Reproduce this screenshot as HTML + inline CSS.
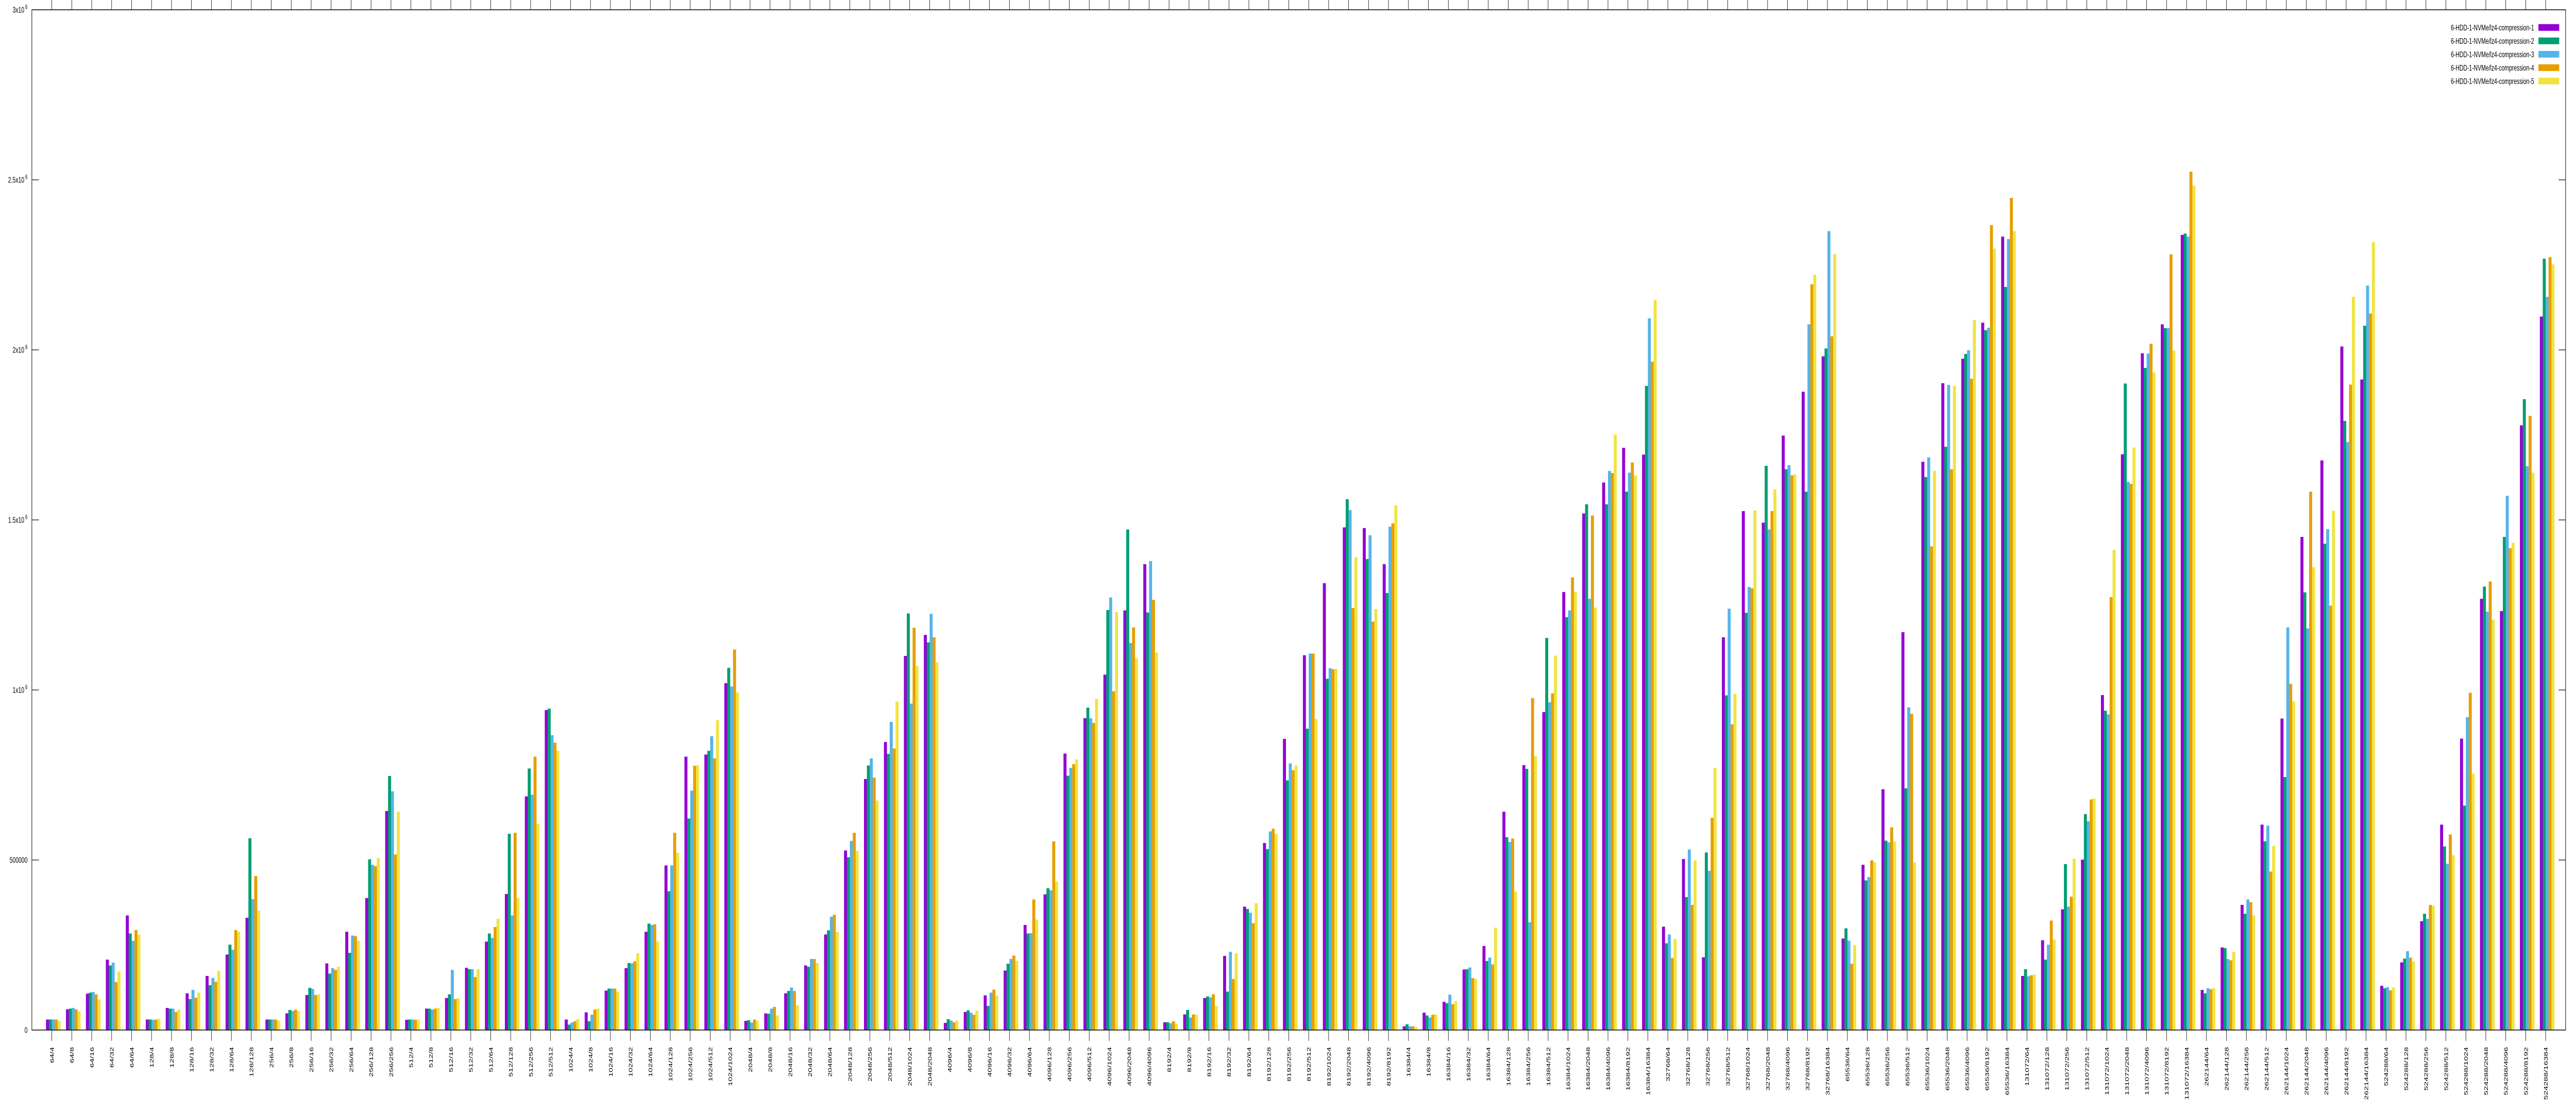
<!DOCTYPE html>
<html><head><meta charset="utf-8"><title>lz4 compression chart</title>
<style>html,body{margin:0;padding:0;background:#fff;width:100vw;height:100vh;overflow:hidden}svg{display:block;width:100vw;height:100vh;position:absolute;left:0;top:0}text{font-family:"Liberation Sans",Arial,sans-serif;fill:#000}</style>
</head><body>
<svg id="chart" viewBox="0 0 7680 2160" preserveAspectRatio="none" xmlns="http://www.w3.org/2000/svg">
<rect x="0" y="0" width="7680" height="2160" fill="#fff"/>
<g id="bars"></g>
<g id="axes"></g>
<g id="legend"></g>
</svg>
<script>
const categories = [
"64/4","64/8","64/16","64/32","64/64",
"128/4","128/8","128/16","128/32","128/64","128/128",
"256/4","256/8","256/16","256/32","256/64","256/128","256/256",
"512/4","512/8","512/16","512/32","512/64","512/128","512/256","512/512",
"1024/4","1024/8","1024/16","1024/32","1024/64","1024/128","1024/256","1024/512","1024/1024",
"2048/4","2048/8","2048/16","2048/32","2048/64","2048/128","2048/256","2048/512","2048/1024","2048/2048",
"4096/4","4096/8","4096/16","4096/32","4096/64","4096/128","4096/256","4096/512","4096/1024","4096/2048","4096/4096",
"8192/4","8192/8","8192/16","8192/32","8192/64","8192/128","8192/256","8192/512","8192/1024","8192/2048","8192/4096","8192/8192",
"16384/4","16384/8","16384/16","16384/32","16384/64","16384/128","16384/256","16384/512","16384/1024","16384/2048","16384/4096","16384/8192","16384/16384",
"32768/64","32768/128","32768/256","32768/512","32768/1024","32768/2048","32768/4096","32768/8192","32768/16384",
"65536/64","65536/128","65536/256","65536/512","65536/1024","65536/2048","65536/4096","65536/8192","65536/16384",
"131072/64","131072/128","131072/256","131072/512","131072/1024","131072/2048","131072/4096","131072/8192","131072/16384",
"262144/64","262144/128","262144/256","262144/512","262144/1024","262144/2048","262144/4096","262144/8192","262144/16384",
"524288/64","524288/128","524288/256","524288/512","524288/1024","524288/2048","524288/4096","524288/8192","524288/16384"];
// values in thousands
const series1 = [31,61,107,207,337, 31,65,108,159,222,330, 31,49,103,196,289,388,644, 30,63,94,183,260,400,687,941, 31,52,116,182,289,484,804,810,1020, 27,49,108,190,281,528,738,847,1100,1162, 21,53,102,175,309,399,813,917,1045,1234,1370, 23,46,94,218,363,550,856,1102,1314,1478,1476,1370, 11,51,83,178,247,642,779,935,1288,1519,1610,1712,1692, 304,503,214,1155,1526,1492,1748,1877,1981, 269,486,708,1170,1671,1902,1974,2080,2333, 159,264,355,501,985,1693,1990,2075,2338, 118,243,368,604,916,1450,1675,2010,1913, 130,199,320,604,857,1268,1232,1778,2098];
const series2 = [31,63,110,190,284, 31,63,91,132,251,564, 31,59,124,166,227,502,747, 31,63,105,179,284,577,769,945, 16,26,122,197,313,408,622,821,1065, 29,48,115,186,293,508,778,812,1225,1140, 32,58,71,195,284,417,748,948,1235,1472,1228, 23,59,99,113,356,532,734,886,1033,1561,1385,1285, 17,43,79,179,203,567,768,1153,1214,1546,1546,1583,1894, 255,391,522,984,1227,1659,1649,1583,2004, 299,440,557,711,1626,1715,1988,2058,2185, 179,207,488,635,939,1901,1947,2064,2342, 108,241,342,555,744,1287,1430,1791,2071, 123,210,342,540,660,1304,1450,1855,2268];
const series3 = [31,65,112,198,262, 30,63,118,153,236,385, 31,56,121,182,278,486,702, 31,60,177,179,271,337,692,867, 22,45,122,196,309,484,704,864,1010, 22,63,125,209,333,556,799,906,960,1224, 28,51,110,209,285,411,771,917,1272,1138,1379, 20,37,96,230,345,584,784,1107,1064,1529,1455,1480, 11,37,104,184,213,553,317,964,1234,1268,1644,1639,2093, 281,531,468,1239,1303,1472,1661,2075,2349, 263,450,552,949,1684,1897,1999,2065,2326, 158,251,363,614,928,1612,1989,2064,2333, 123,209,384,601,1184,1181,1473,1729,2189, 126,232,327,489,920,1230,1571,1658,2156];
const series4 = [31,61,105,141,294, 31,53,95,142,294,453, 31,60,103,177,276,482,516, 30,63,91,156,303,580,804,845, 26,60,122,202,311,580,777,799,1119, 31,68,115,209,339,580,742,828,1183,1155, 23,45,119,219,384,555,782,903,996,1184,1265, 26,46,105,150,314,592,764,1107,1061,1241,1201,1490, 11,45,76,153,193,563,976,990,1331,1513,1638,1669,1965, 212,368,624,899,1299,1526,1631,2193,2040, 195,499,596,930,1422,1649,1915,2367,2447, 161,322,392,678,1273,1606,2018,2281,2524, 120,205,376,466,1018,1583,1248,1898,2107, 117,213,368,575,992,1319,1417,1806,2273];
const series5 = [27,55,90,172,281, 33,60,110,174,289,351, 28,56,105,186,262,506,642, 31,65,94,179,327,388,606,821, 32,63,113,226,260,521,778,911,993, 27,43,73,197,288,527,675,966,1071,1081, 28,57,102,204,325,437,796,974,1229,1093,1110, 19,45,71,226,373,577,778,915,1062,1390,1238,1543, 9,46,85,150,301,407,805,1101,1289,1242,1751,1631,2147, 268,499,770,989,1528,1590,1634,2221,2282, 250,493,554,493,1644,1894,2088,2298,2349, 163,266,504,681,1412,1713,1934,1998,2483, 123,230,337,542,966,1361,1527,2156,2317, 125,202,366,514,754,1207,1433,1639,2251];
const seriesNames = ["6-HDD-1-NVMe/lz4-compression-1","6-HDD-1-NVMe/lz4-compression-2","6-HDD-1-NVMe/lz4-compression-3","6-HDD-1-NVMe/lz4-compression-4","6-HDD-1-NVMe/lz4-compression-5"];
const yTickValues = [0,500000,1000000,1500000,2000000,2500000,3000000];
const yTickMain = ["0","500000","1x10","1.5x10","2x10","2.5x10","3x10"];
const yTickExp = ["","","6","6","6","6","6"];

const colors = ["#9400d3","#009e73","#56b4e9","#e69f00","#f0e442"];
const NS = "http://www.w3.org/2000/svg";
const L = 95, R = 7649, T = 19, B = 1999;
const X_MIN = -1, X_MAX = 126, Y_MAX = 3000000;
function xScale(i){ return L + (i - X_MIN) * (R - L) / (X_MAX - X_MIN); }
function yScale(v){ return B - v * (B - T) / Y_MAX; }
function mk(tag, attrs, parent){ const e = document.createElementNS(NS, tag); for (const k in attrs) e.setAttribute(k, attrs[k]); parent.appendChild(e); return e; }

const barsG = document.getElementById('bars');
const allSeries = [series1, series2, series3, series4, series5];
const BW = 8.65, OFF = -17.3;
allSeries.forEach((s, j) => {
  const g = mk('g', {fill: colors[j]}, barsG);
  
  
  s.forEach((v, i) => {
    const val = v * 1000;
    const x = xScale(i) + OFF + j * BW;
    const y = yScale(val);
    const r = mk('rect', {x: x.toFixed(2), y: y.toFixed(2), width: (BW + 0.3).toFixed(2), height: (B - y).toFixed(2)}, g);
    
    
  });
});

const ax = document.getElementById('axes');
const frame = mk('rect', {x: L, y: T, width: R - L, height: B - T, fill: 'none', stroke: '#000', 'stroke-width': 1.5}, ax);



yTickValues.forEach((v, k) => {
  const y = yScale(v);
  if (k > 0 && k < yTickValues.length - 1) {
    const t1 = mk('line', {x1: L, x2: L + 21, y1: y, y2: y, stroke: '#000', 'stroke-width': 1.2}, ax);
    
    
    const t2 = mk('line', {x1: R, x2: R - 21, y1: y, y2: y, stroke: '#000', 'stroke-width': 1.2}, ax);
    
    
  }
  const tx = mk('text', {x: 82, y: (y + 5.5).toFixed(1), 'text-anchor': 'end', 'font-size': 16}, ax);
  
  
  const m = document.createElementNS(NS, 'tspan'); m.textContent = yTickMain[k]; tx.appendChild(m);
  if (yTickExp[k]) {
    const e = document.createElementNS(NS, 'tspan');
    e.setAttribute('dx', '3'); e.setAttribute('dy', '-7'); e.setAttribute('font-size', '12');
    e.textContent = yTickExp[k]; tx.appendChild(e);
  }
});

categories.forEach((c, i) => {
  const x = xScale(i);
  const tb = mk('line', {x1: x, x2: x, y1: B, y2: B + 21, stroke: '#000', 'stroke-width': 1.2}, ax);
  
  
  const tt = mk('line', {x1: x, x2: x, y1: 0, y2: T, stroke: '#000', 'stroke-width': 1.2}, ax);
  
  
  const lx = x + 6, ly = 2032;
  const t = mk('text', {x: lx, y: ly, 'text-anchor': 'end', 'font-size': 16, transform: 'rotate(-90 ' + lx + ' ' + ly + ')'}, ax);
  t.textContent = c;
  
  
});

const lg = document.getElementById('legend');
seriesNames.forEach((n, j) => {
  const cy = 53.3 + j * 26;
  const g = mk('g', {}, lg);
  
  
  const t = mk('text', {x: 7555, y: (cy + 5.5).toFixed(1), 'text-anchor': 'end', 'font-size': 16}, g);
  t.textContent = n;
  
  
  const r = mk('rect', {x: 7568, y: (cy - 6.5).toFixed(1), width: 62, height: 13, fill: colors[j]}, g);
  
  
});
</script>
</body></html>
